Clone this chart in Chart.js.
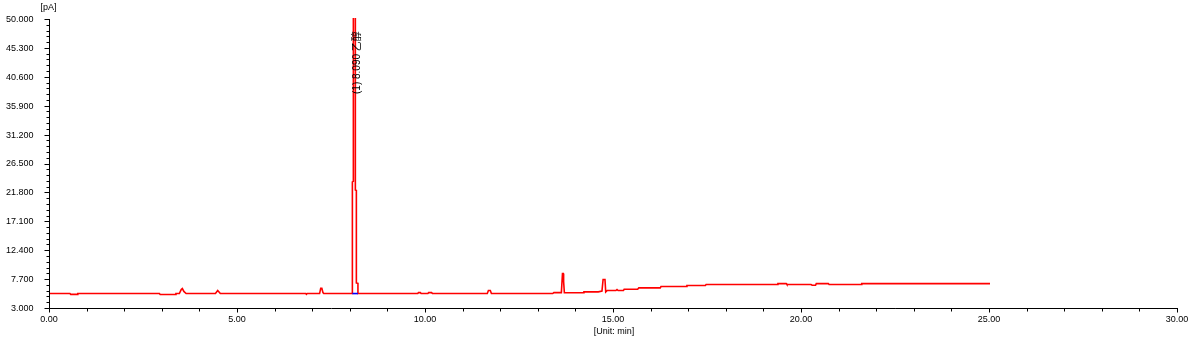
<!DOCTYPE html>
<html>
<head>
<meta charset="utf-8">
<script src="https://cdn.jsdelivr.net/npm/chart.js@4.4.1/dist/chart.umd.min.js"></script>
<style>
  html, body { margin: 0; padding: 0; background: #fff; }
  canvas { display: block; }
</style>
</head>
<body>
<canvas id="c" width="1197" height="343"></canvas>
<script>
// ---- data ----
const times = [
  0.00, 0.53, 0.55, 0.72, 0.74, 2.91, 2.93, 3.33, 3.35, 3.44, 3.49, 3.52, 3.56, 3.62,
  4.40, 4.46, 4.53, 6.80, 6.82, 6.84, 7.17, 7.20, 7.23, 7.26, 7.28,
  8.00, 8.042, 8.042, 8.068, 8.068, 8.121, 8.121, 8.148, 8.148, 8.19, 8.19,
  9.78, 9.80, 9.85, 9.87, 10.05, 10.07, 10.15, 10.17, 11.63, 11.66, 11.71, 11.74,
  13.37, 13.40, 13.60, 13.63, 13.65, 13.66, 13.68, 14.18, 14.20, 14.58, 14.68, 14.71,
  14.76, 14.78, 14.82, 15.05, 15.08, 15.11, 15.25, 15.27, 15.63, 15.66, 16.23, 16.25,
  16.92, 16.94, 17.43, 17.45, 19.34, 19.36, 19.58, 19.60, 20.24, 20.27, 20.36, 20.38,
  20.70, 20.72, 21.57, 21.59, 25.00
];
const signal = [
  5.35, 5.35, 5.22, 5.22, 5.35, 5.35, 5.20, 5.20, 5.35, 5.35, 6.00, 6.17, 5.70, 5.35,
  5.35, 5.84, 5.35, 5.35, 5.22, 5.35, 5.35, 6.20, 6.20, 5.50, 5.35,
  5.35, 5.35, 23.5, 23.6, 51.0, 51.0, 22.2, 22.1, 7.07, 7.00, 5.35,
  5.35, 5.50, 5.50, 5.35, 5.35, 5.50, 5.50, 5.35, 5.35, 5.84, 5.84, 5.35,
  5.35, 5.50, 5.50, 8.60, 8.60, 7.30, 5.47, 5.47, 5.63, 5.63, 5.75, 7.63,
  7.63, 5.60, 5.84, 5.84, 6.00, 5.84, 5.84, 6.05, 6.05, 6.28, 6.28, 6.49,
  6.49, 6.65, 6.65, 6.81, 6.81, 6.97, 6.97, 6.81, 6.81, 6.70, 6.70, 6.97,
  6.97, 6.81, 6.81, 6.97, 6.97
];
// integration baseline under peak 1
const baseTimes = [8.042, 8.19];
const baseValues = [5.35, 5.35];
// peak annotation
const peakTime = 8.09;
const peakLabel = "(1) 8.090 乙醇";
// axis ticks
const yTicks = [3.0, 7.7, 12.4, 17.1, 21.8, 26.5, 31.2, 35.9, 40.6, 45.3, 50.0];
const yTickLabels = ["3.000","7.700","12.400","17.100","21.800","26.500","31.200","35.900","40.600","45.300","50.000"];
const xTicks = [0, 5, 10, 15, 20, 25, 30];
const xTickLabels = ["0.00","5.00","10.00","15.00","20.00","25.00","30.00"];
const xUnitLabel = "[Unit: min]";
const yUnitLabel = "[pA]";

const FONT = '9px "Liberation Sans", Arial, sans-serif';

const axesPlugin = {
  id: 'axesPlugin',
  afterDraw(chart) {
    const ctx = chart.ctx;
    const xs = chart.scales.x, ys = chart.scales.y;
    const a = chart.chartArea;
    const L = Math.round(a.left) - 0.5;
    const B = Math.round(a.bottom) + 0.5;
    ctx.save();
    ctx.strokeStyle = '#000';
    ctx.lineWidth = 1;
    ctx.beginPath();
    ctx.moveTo(L, ys.getPixelForValue(yTicks[yTicks.length - 1]));
    ctx.lineTo(L, B);
    ctx.lineTo(xs.getPixelForValue(xTicks[xTicks.length - 1]), B);
    ctx.stroke();

    // y ticks: major + 4 minor
    ctx.beginPath();
    for (let i = 0; i < yTicks.length; i++) {
      const py = Math.round(ys.getPixelForValue(yTicks[i])) + 0.5;
      ctx.moveTo(L - 5, py); ctx.lineTo(L, py);
      if (i < yTicks.length - 1) {
        const step = (yTicks[i + 1] - yTicks[i]) / 5;
        for (let k = 1; k < 5; k++) {
          const pm = Math.round(ys.getPixelForValue(yTicks[i] + k * step)) + 0.5;
          ctx.moveTo(L - 3, pm); ctx.lineTo(L, pm);
        }
      }
    }
    // x ticks: major every 5, minor every 1
    for (let i = 0; i < xTicks.length; i++) {
      const px = Math.round(xs.getPixelForValue(xTicks[i])) - 0.5;
      ctx.moveTo(px, B); ctx.lineTo(px, B + 4);
      if (i < xTicks.length - 1) {
        const step = (xTicks[i + 1] - xTicks[i]) / 5;
        for (let k = 1; k < 5; k++) {
          const pm = Math.round(xs.getPixelForValue(xTicks[i] + k * step)) - 0.5;
          ctx.moveTo(pm, B); ctx.lineTo(pm, B + 3);
        }
      }
    }
    ctx.stroke();

    ctx.fillStyle = '#000';
    ctx.font = FONT;
    ctx.textAlign = 'right';
    ctx.textBaseline = 'middle';
    yTicks.forEach((v, i) => {
      ctx.fillText(yTickLabels[i], L - 16, ys.getPixelForValue(v) + 0.5);
    });
    ctx.textAlign = 'center';
    xTicks.forEach((v, i) => {
      ctx.fillText(xTickLabels[i], xs.getPixelForValue(v) - 1, B + 11);
    });
    ctx.fillText(xUnitLabel, (a.left + a.right) / 2, B + 23);
    ctx.fillText(yUnitLabel, L - 1, 8);

    // rotated peak label
    ctx.save();
    ctx.translate(xs.getPixelForValue(peakTime) + 3.5, 94);
    ctx.rotate(-Math.PI / 2);
    ctx.textAlign = 'left';
    ctx.textBaseline = 'middle';
    ctx.font = '10px "Liberation Sans", "Noto Sans CJK SC", sans-serif';
    ctx.fillText(peakLabel, 0, 0);
    ctx.restore();

    ctx.restore();
  }
};

new Chart(document.getElementById('c'), {
  type: 'line',
  data: {
    datasets: [
      {
        data: baseTimes.map((t, i) => ({ x: t, y: baseValues[i] })),
        borderColor: '#0000ff',
        borderWidth: 1.6,
        pointRadius: 0,
        tension: 0,
        clip: false
      },
      {
        data: times.map((t, i) => ({ x: t, y: signal[i] })),
        borderColor: '#ff0000',
        borderWidth: 1.6,
        pointRadius: 0,
        tension: 0,
        clip: { left: 2, right: 2, top: 1, bottom: 2 }
      }
    ]
  },
  options: {
    responsive: false,
    animation: false,
    devicePixelRatio: 1,
    layout: { padding: { left: 50, right: 19, top: 19, bottom: 35 } },
    scales: {
      x: { type: 'linear', min: 0, max: 30, display: false },
      y: { type: 'linear', min: 3, max: 50, display: false }
    },
    plugins: { legend: { display: false }, tooltip: { enabled: false } }
  },
  plugins: [axesPlugin]
});
</script>
</body>
</html>
